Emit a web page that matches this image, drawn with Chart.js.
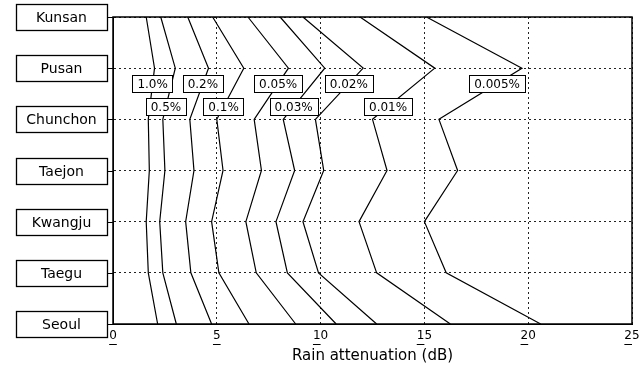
<!DOCTYPE html>
<html><head><meta charset="utf-8">
<script src="https://cdn.jsdelivr.net/npm/chart.js@4"></script>
<style>html,body{margin:0;padding:0;background:#fff}#wrap{width:640px;height:369px}</style>
</head><body><div id="wrap"><canvas id="c" width="640" height="369"></canvas></div>
<script>
// Categories (top to bottom)
const cities = ['Kunsan', 'Pusan', 'Chunchon', 'Taejon', 'Kwangju', 'Taegu', 'Seoul'];
// Exceedance percentages (series names)
const percentages = ['1.0%', '0.5%', '0.2%', '0.1%', '0.05%', '0.03%', '0.02%', '0.01%', '0.005%'];
// Rain attenuation (dB) per city for each percentage
const att_1_0   = [1.6, 2.0, 1.7, 1.75, 1.6, 1.7, 2.15];
const att_0_5   = [2.3, 3.0, 2.4, 2.5, 2.25, 2.4, 3.05];
const att_0_2   = [3.6, 4.6, 3.7, 3.9, 3.5, 3.75, 4.75];
const att_0_1   = [4.8, 6.3, 5.0, 5.3, 4.75, 5.1, 6.55];
const att_0_05  = [6.5, 8.45, 6.8, 7.15, 6.4, 6.9, 8.8];
const att_0_03  = [8.05, 10.2, 8.2, 8.75, 7.85, 8.4, 10.75];
const att_0_02  = [9.15, 12.05, 9.75, 10.15, 9.15, 9.9, 12.7];
const att_0_01  = [11.9, 15.5, 12.5, 13.2, 11.85, 12.7, 16.25];
const att_0_005 = [15.1, 19.7, 15.7, 16.6, 15.0, 16.05, 20.6];
// Axis ticks
const xTicks = [0, 5, 10, 15, 20, 25];
const xTitle = 'Rain attenuation (dB)';

const seriesValues = [att_1_0, att_0_5, att_0_2, att_0_1, att_0_05, att_0_03, att_0_02, att_0_01, att_0_005];

const FONT = '"DejaVu Sans", sans-serif';

const decor = {
  id: 'decor',
  afterDatasetsDraw(chart) {
    const {ctx, scales: {x, y}} = chart;
    ctx.save();
    ctx.font = '12px ' + FONT;
    chart.data.datasets.forEach((ds, i) => {
      const frac = i % 2 === 0 ? 0.3 : 0.75;
      const y1 = y.getPixelForValue(1), y2 = y.getPixelForValue(2);
      const x1 = x.getPixelForValue(ds.data[1]), x2 = x.getPixelForValue(ds.data[2]);
      const cy = y1 + (y2 - y1) * frac, cx = x1 + (x2 - x1) * frac;
      const w = ctx.measureText(ds.label).width + 10, h = 17;
      ctx.fillStyle = '#fff';
      ctx.fillRect(cx - w / 2, cy - h / 2, w, h);
      ctx.strokeStyle = '#000';
      ctx.lineWidth = 1;
      ctx.strokeRect(Math.round(cx - w / 2) + 0.5, Math.round(cy - h / 2) + 0.5, Math.round(w), h);
      ctx.fillStyle = '#000';
      ctx.textAlign = 'center';
      ctx.textBaseline = 'middle';
      ctx.fillText(ds.label, cx, cy + 1);
    });
    ctx.restore();
  },
  afterDraw(chart) {
    const {ctx, chartArea: a, scales: {x, y}} = chart;
    ctx.save();
    // frame
    ctx.strokeStyle = '#000';
    ctx.lineWidth = 1.5;
    ctx.strokeRect(a.left, a.top, a.right - a.left, a.bottom - a.top);
    // boxed city labels
    ctx.font = '14px ' + FONT;
    ctx.textAlign = 'center';
    ctx.textBaseline = 'middle';
    chart.data.labels.forEach((lab, i) => {
      const cy = Math.round(y.getPixelForValue(i));
      const bx = 16, bw = 91, bh = 26;
      ctx.fillStyle = '#fff';
      ctx.fillRect(bx, cy - bh / 2, bw, bh);
      ctx.lineWidth = 1.3;
      ctx.strokeStyle = '#000';
      ctx.strokeRect(bx + 0.5, cy - bh / 2 + 0.5, bw, bh);
      ctx.fillStyle = '#000';
      ctx.fillText(lab, bx + bw / 2, cy + 1);
      ctx.lineWidth = 1;
      ctx.beginPath();
      ctx.moveTo(bx + bw, cy + 0.5);
      ctx.lineTo(a.left, cy + 0.5);
      ctx.stroke();
    });
    // underline marks below x tick labels
    ctx.font = '12px ' + FONT;
    ctx.lineWidth = 1;
    xTicks.forEach(v => {
      const px = x.getPixelForValue(v);
      const s = String(v);
      const w = ctx.measureText(s).width;
      const dw = ctx.measureText(s[0]).width;
      ctx.beginPath();
      ctx.moveTo(px - w / 2, 344.5);
      ctx.lineTo(px - w / 2 + dw, 344.5);
      ctx.stroke();
    });
    ctx.restore();
  }
};

new Chart(document.getElementById('c'), {
  type: 'line',
  data: {
    labels: cities,
    datasets: percentages.map((p, i) => ({
      label: p,
      data: seriesValues[i],
      borderColor: '#000',
      borderWidth: 1.2,
      pointRadius: 0,
      fill: false,
      tension: 0
    }))
  },
  options: {
    indexAxis: 'y',
    responsive: false,
    animation: false,
    devicePixelRatio: 1,
    layout: {padding: {left: 0, right: 8, top: 17, bottom: 0}},
    plugins: {legend: {display: false}, tooltip: {enabled: false}},
    scales: {
      x: {
        type: 'linear',
        min: 0, max: 25,
        afterBuildTicks: s => { s.ticks = xTicks.map(v => ({value: v})); },
        ticks: {color: '#000', font: {family: FONT, size: 12}, padding: 5},
        grid: {color: '#222', lineWidth: 1, drawTicks: false},
        border: {display: true, color: '#000', width: 1, dash: [2, 3]},
        title: {display: true, text: xTitle, color: '#000', font: {family: FONT, size: 15}, padding: {top: 0, bottom: 4}},
        afterFit: s => { s.height = 45; s.paddingLeft = 0; s.paddingRight = 0; }
      },
      y: {
        type: 'category',
        offset: false,
        ticks: {display: false},
        grid: {color: '#222', lineWidth: 1, drawTicks: false},
        border: {display: true, color: '#000', width: 1, dash: [2, 3]},
        afterFit: s => { s.width = 113; s.paddingTop = 0; s.paddingBottom = 0; }
      }
    }
  },
  plugins: [decor]
});
</script>
</body></html>
